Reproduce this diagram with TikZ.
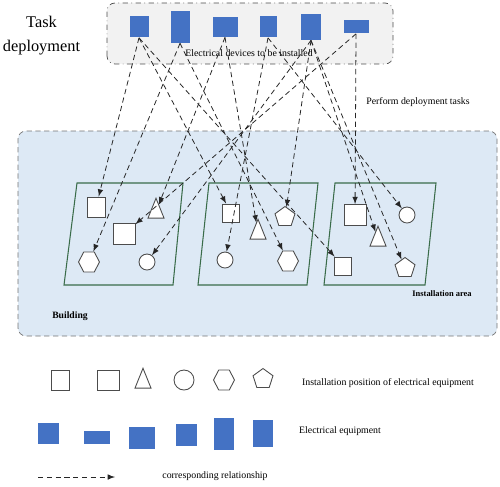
\documentclass[tikz,border=0pt]{standalone}
\usepackage{fontspec}
\setmainfont{Liberation Serif}
\usetikzlibrary{shapes.geometric}
\definecolor{devblue}{RGB}{68,114,196}
\definecolor{bldblue}{RGB}{221,233,245}
\definecolor{taskgray}{RGB}{242,242,242}
\definecolor{areagreen}{RGB}{58,108,74}
\tikzset{
	dev/.style={rectangle, fill=devblue, inner sep=0pt},
	spot/.style={draw=black!70, fill=white, inner sep=0pt, line width=0.5pt},
	sq/.style={spot, rectangle},
	tri/.style={spot, regular polygon, regular polygon sides=3, minimum size=0.53cm, xscale=0.7},
	circ/.style={spot, circle, minimum size=0.32cm},
	hexa/.style={spot, regular polygon, regular polygon sides=6, minimum size=0.42cm, yscale=1.1},
	penta/.style={spot, regular polygon, regular polygon sides=5, minimum size=0.42cm},
	area/.style={draw=areagreen, line width=0.6pt},
	link/.style={dash pattern=on 3pt off 2pt, -latex, black!85, line width=0.45pt},
	lbl/.style={font=\fontsize{5.6}{6.5}\selectfont, inner sep=0pt}
}

\begin{document}
\begin{tikzpicture}
		\useasboundingbox (0,0) rectangle (10,9.72);
		\draw[fill=taskgray, draw=black!70, dash dot, rounded corners=0.16cm] (2.14,8.44) rectangle (7.86,9.66);
		\draw[fill=bldblue, draw=black!55, densely dashed, rounded corners=0.16cm] (0.36,3.0) rectangle (9.94,7.1);
		\node[align=center, font=\fontsize{9.3}{13.6}\selectfont] (task) at (0.83,9.0) {Task\\deployment};
		\node[lbl] (todo) at (4.98,8.66) {Electrical devices to be installed};
		\node[lbl] (perform) at (8.36,7.68) {Perform deployment tasks};
		\node[lbl, font=\fontsize{5.5}{6.5}\selectfont\bfseries] (bld) at (1.40,3.40) {Building};
		\node[lbl, font=\fontsize{4.8}{6}\selectfont\bfseries] (inst) at (8.84,3.84) {Installation area};
		
		\node[dev, minimum width=0.38cm, minimum height=0.42cm] (d1) at (2.78,9.18) {};
		\node[dev, minimum width=0.38cm, minimum height=0.64cm] (d2) at (3.60,9.18) {};
		\node[dev, minimum width=0.50cm, minimum height=0.40cm] (d3) at (4.50,9.18) {};
		\node[dev, minimum width=0.34cm, minimum height=0.42cm] (d4) at (5.36,9.18) {};
		\node[dev, minimum width=0.40cm, minimum height=0.52cm] (d5) at (6.22,9.18) {};
		\node[dev, minimum width=0.50cm, minimum height=0.26cm] (d6) at (7.12,9.18) {};
		
		\draw[area] (1.54,6.06) -- (3.66,6.06) -- (3.46,4.02) -- (1.28,4.02) -- cycle;
		\draw[area] (4.18,6.06) -- (6.36,6.06) -- (6.14,4.02) -- (3.96,4.02) -- cycle;
		\draw[area] (6.70,6.06) -- (8.72,6.06) -- (8.50,4.02) -- (6.48,4.02) -- cycle;
		
		\node[sq, minimum width=0.36cm, minimum height=0.40cm] (a1sq) at (1.92,5.58) {};
		\node[tri] (a1tri) at (3.12,5.49) {};
		\node[sq, minimum width=0.44cm, minimum height=0.42cm] (a1box) at (2.48,5.04) {};
		\node[hexa] (a1hex) at (1.78,4.48) {};
		\node[circ] (a1circ) at (2.94,4.48) {};
		
		\node[sq, minimum width=0.34cm, minimum height=0.36cm] (a2sq) at (4.62,5.46) {};
		\node[tri] (a2tri) at (5.16,5.07) {};
		\node[penta] (a2pent) at (5.70,5.38) {};
		\node[circ] (a2circ) at (4.50,4.52) {};
		\node[hexa] (a2hex) at (5.76,4.50) {};
		
		\node[sq, minimum width=0.44cm, minimum height=0.42cm] (a3box) at (7.10,5.42) {};
		\node[circ] (a3circ) at (8.14,5.42) {};
		\node[tri] (a3tri) at (7.56,4.93) {};
		\node[sq, minimum width=0.34cm, minimum height=0.36cm] (a3sq) at (6.86,4.40) {};
		\node[penta] (a3pent) at (8.10,4.36) {};
		
		\draw[link] (d1.south) -- (a1sq);
		\draw[link] (d1.south) -- (a2sq);
		\draw[link] (d1.south) -- (a3sq);
		\draw[link] (d2.south) -- (a1hex);
		\draw[link] (d2.south) -- (a2hex);
		\draw[link] (d3.south) -- (a1tri);
		\draw[link] (d3.south) -- (a2tri);
		\draw[link] (d4.south) -- (a2circ);
		\draw[link] (d4.south) -- (a3circ);
		\draw[link] (d5.south) -- (a1circ);
		\draw[link] (d5.south) -- (a2pent);
		\draw[link] (d5.south) -- (a3tri);
		\draw[link] (d5.south) -- (a3pent);
		\draw[link] (d6.south) -- (a1box);
		\draw[link] (d6.south) -- (a3box);
		
		\node[sq, minimum width=0.36cm, minimum height=0.40cm] (l1) at (1.20,2.12) {};
		\node[sq, minimum width=0.44cm, minimum height=0.40cm] (l2) at (2.16,2.12) {};
		\node[tri] (l3) at (2.86,2.09) {};
		\node[circ, minimum size=0.40cm] (l4) at (3.68,2.12) {};
		\node[hexa] (l5) at (4.48,2.12) {};
		\node[penta] (l6) at (5.26,2.14) {};
		\node[lbl] (lpos) at (7.76,2.06) {Installation position of electrical equipment};
		
		\node[dev, minimum width=0.42cm, minimum height=0.42cm] (e1) at (0.96,1.06) {};
		\node[dev, minimum width=0.52cm, minimum height=0.26cm] (e2) at (1.94,0.98) {};
		\node[dev, minimum width=0.52cm, minimum height=0.44cm] (e3) at (2.84,0.96) {};
		\node[dev, minimum width=0.42cm, minimum height=0.44cm] (e4) at (3.72,1.02) {};
		\node[dev, minimum width=0.40cm, minimum height=0.64cm] (e5) at (4.48,1.04) {};
		\node[dev, minimum width=0.40cm, minimum height=0.54cm] (e6) at (5.26,1.06) {};
		\node[lbl] (lequip) at (6.80,1.10) {Electrical equipment};
		
		\coordinate (la) at (0.76,0.18);
		\coordinate (lb) at (2.30,0.18);
		\draw[link] (la) -- (lb);
		\node[lbl] (lrel) at (4.30,0.20) {corresponding relationship};
\end{tikzpicture}
\end{document}
